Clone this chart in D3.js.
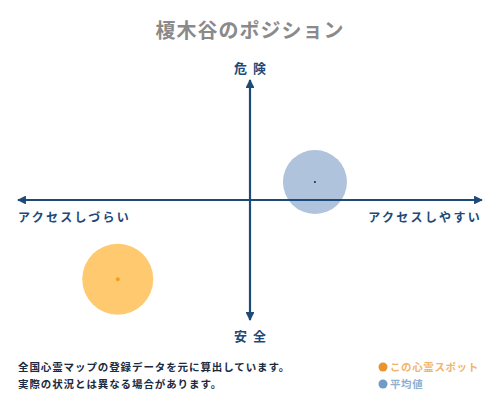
<!DOCTYPE html>
<html><head><meta charset="utf-8">
<script src="https://cdn.jsdelivr.net/npm/d3@7"></script>
<style>html,body{margin:0;padding:0;background:#fff;}svg{display:block;}</style>
</head><body>
<script>
const titleText = "榎木谷のポジション";
const axisLabels = ["危険", "安全", "アクセスしづらい", "アクセスしやすい"];
const seriesNames = ["この心霊スポット", "平均値"];
const xValues = [-0.57, 0.28];   // access (left = hard, right = easy)
const yValues = [-0.66, 0.15];   // danger (up = dangerous)
const sizes = [35.5, 32];
const noteLines = ["全国心霊マップの登録データを元に算出しています。", "実際の状況とは異なる場合があります。"];

const W = 500, H = 400;
const navy = "#1e4a78";
const fills = ["#ffc970", "#afc3dc"];
const dots = ["#f0a020", "#222"];
const legendCol = ["#e8952e", "#6f9bc4"];
const legendText = ["#f2b469", "#8fb0d0"];
const font = "'Noto Sans CJK JP', sans-serif";

const svg = d3.select("body").append("svg").attr("width", W).attr("height", H);
const x = d3.scaleLinear().domain([-1, 1]).range([18, 482]);
const y = d3.scaleLinear().domain([-1, 1]).range([320, 80]);

svg.append("text").attr("x", 250).attr("y", 38).attr("text-anchor", "middle")
  .attr("font-family", font).attr("font-size", 20).attr("font-weight", "bold")
  .attr("fill", "#8a8a8a").attr("letter-spacing", 1).text(titleText);

const defs = svg.append("defs");
defs.append("marker").attr("id", "ah").attr("viewBox", "0 0 10 10").attr("refX", 9).attr("refY", 5)
  .attr("markerWidth", 4).attr("markerHeight", 4).attr("orient", "auto-start-reverse")
  .attr("markerUnits", "strokeWidth")
  .append("path").attr("d", "M0,0 L10,5 L0,10 Z").attr("fill", navy);

// bubbles
const data = xValues.map((v, i) => ({x: v, y: yValues[i], r: sizes[i], i}));
svg.selectAll("circle.b").data(data).enter().append("circle").attr("class", "b")
  .attr("cx", d => x(d.x)).attr("cy", d => y(d.y)).attr("r", d => d.r)
  .attr("fill", d => fills[d.i]);

// axes
svg.append("line").attr("x1", x(-1)).attr("x2", x(1)).attr("y1", y(0)).attr("y2", y(0))
  .attr("stroke", navy).attr("stroke-width", 2.2)
  .attr("marker-start", "url(#ah)").attr("marker-end", "url(#ah)");
svg.append("line").attr("x1", x(0)).attr("x2", x(0)).attr("y1", y(-1)).attr("y2", y(1))
  .attr("stroke", navy).attr("stroke-width", 2.2)
  .attr("marker-start", "url(#ah)").attr("marker-end", "url(#ah)");

svg.selectAll("circle.d").data(data).enter().append("circle").attr("class", "d")
  .attr("cx", d => x(d.x)).attr("cy", d => y(d.y)).attr("r", d => d.i === 0 ? 2 : 1)
  .attr("fill", d => dots[d.i]);

const lab = (t, px, py, anchor) => svg.append("text").attr("x", px).attr("y", py)
  .attr("text-anchor", anchor).attr("font-family", font).attr("font-size", 13)
  .attr("font-weight", "bold").attr("fill", navy).attr("letter-spacing", 6).text(t);
lab(axisLabels[0], x(0) + 3, 73, "middle");
lab(axisLabels[1], x(0) + 3, 341, "middle");
svg.append("text").attr("x", 18).attr("y", 222).attr("font-family", font).attr("font-size", 12)
  .attr("font-weight", "bold").attr("fill", navy).attr("letter-spacing", 2.3).text(axisLabels[2]);
svg.append("text").attr("x", 482).attr("y", 222).attr("text-anchor", "end").attr("font-family", font).attr("font-size", 12)
  .attr("font-weight", "bold").attr("fill", navy).attr("letter-spacing", 2.3).text(axisLabels[3]);

noteLines.forEach((t, i) => svg.append("text").attr("x", 18).attr("y", 371 + i * 17)
  .attr("font-family", font).attr("font-size", 10.5).attr("font-weight", "bold")
  .attr("fill", "#1a2a40").attr("letter-spacing", 0.9).text(t));

seriesNames.forEach((t, i) => {
  svg.append("circle").attr("cx", 383).attr("cy", 367 + i * 17).attr("r", 4.5).attr("fill", legendCol[i]);
  svg.append("text").attr("x", 390).attr("y", 371 + i * 17).attr("font-family", font).attr("font-size", 10.5)
    .attr("font-weight", "bold").attr("fill", legendText[i]).attr("letter-spacing", 0.6).text(t);
});
</script>
</body></html>
